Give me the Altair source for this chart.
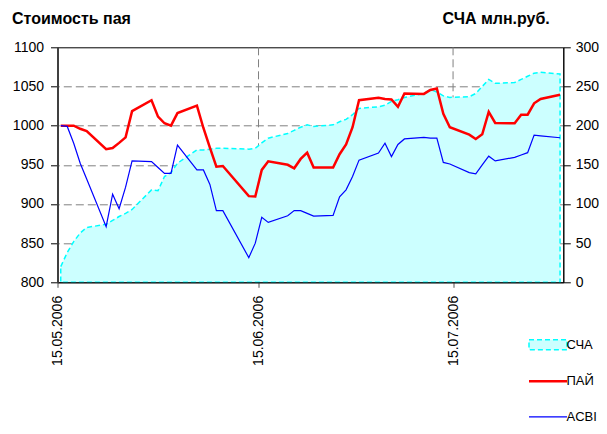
import altair as alt
import pandas as pd

# ---- data ----
dates = ["2006-05-15", "2006-05-16", "2006-05-17", "2006-05-18", "2006-05-19",
         "2006-05-22", "2006-05-23", "2006-05-24", "2006-05-25", "2006-05-26",
         "2006-05-29", "2006-05-30", "2006-05-31", "2006-06-01", "2006-06-02",
         "2006-06-05", "2006-06-06", "2006-06-07", "2006-06-08", "2006-06-09",
         "2006-06-13", "2006-06-14", "2006-06-15", "2006-06-16",
         "2006-06-19", "2006-06-20", "2006-06-21", "2006-06-22", "2006-06-23",
         "2006-06-26", "2006-06-27", "2006-06-28", "2006-06-29", "2006-06-30",
         "2006-07-03", "2006-07-04", "2006-07-05", "2006-07-06", "2006-07-07",
         "2006-07-10", "2006-07-11", "2006-07-12", "2006-07-13", "2006-07-14",
         "2006-07-17", "2006-07-18", "2006-07-19", "2006-07-20", "2006-07-21",
         "2006-07-24", "2006-07-25", "2006-07-26", "2006-07-27", "2006-07-28",
         "2006-07-31"]

pai = [1000, 1000, 1000, 996, 993,
       970, 971.5, 978, 985, 1018.5,
       1032.5, 1011.5, 1003, 1000, 1016,
       1025.5, 997, 972, 947.5, 948.5,
       910, 909.5, 943.5, 954.5,
       950, 945.5, 957.5, 965.5, 946.5,
       946.5, 963.5, 976, 998, 1032.5,
       1035.5, 1034, 1033.5, 1024, 1041,
       1040.5, 1045.5, 1047.5, 1015, 998,
       988.5, 983, 989, 1017.5, 1003.5,
       1003, 1014, 1014, 1028.5, 1034,
       1039.5]

acbi = [1000, 999, 977.5, 952, 932,
        871, 912.5, 894, 921.5, 955,
        954, 946.5, 939, 939, 975,
        943.5, 943.5, 925, 891.5, 891.5,
        831.5, 850, 883, 876.5,
        885, 891.5, 891.5, 888, 884.5,
        885.5, 909, 918, 935, 956,
        965, 977.5, 960.5, 976, 983,
        985, 984, 984, 953, 951,
        940, 938.5, 950, 961, 955,
        959.5, 962.5, 965.5, 988, 987,
        984.5]

scha = [20, 38, 52, 63, 70,
        74, 79, 84, 88, 93,
        118, 117, 135, 140, 152,
        169, 169, 170, 171, 171,
        170, 171, 178, 184,
        190, 194, 198, 201, 199,
        201, 205, 208, 214, 222,
        224, 226, 231, 233, 236,
        241, 246, 243, 238, 236,
        237, 241, 250, 259, 254,
        255, 259, 263, 267, 268,
        266]

series_names = ["СЧА", "ПАЙ", "ACBI"]
series_colors = ["#00FFFF", "#FF0000", "#0000FF"]
x_ticks = ["2006-05-15", "2006-06-15", "2006-07-15"]
x_domain = ["2006-05-15", "2006-08-01"]
left_ticks = [800, 850, 900, 950, 1000, 1050, 1100]
right_ticks = [0, 50, 100, 150, 200, 250, 300]

# ---- tables ----
df = pd.DataFrame({"date": [d + "T12:00:00" for d in dates], "scha": scha})
df_lines = pd.DataFrame({
    "date": [d + "T12:00:00" for d in dates] * 2,
    "value": pai + acbi,
    "series": [series_names[1]] * len(dates) + [series_names[2]] * len(dates),
})
df_vgrid = pd.DataFrame({"date": [d + "T00:00:00" for d in x_ticks[1:]]})


def dt(s):
    y, m, d = s.split("-")
    return alt.DateTime(year=int(y), month=int(m), date=int(d))


FONT = "Liberation Sans"
IS_SCHA = "datum.value === '" + series_names[0] + "'"

x_enc = alt.X(
    "date:T",
    title=None,
    scale=alt.Scale(domain=[dt(x_domain[0]), dt(x_domain[1])], nice=False),
    axis=alt.Axis(
        values=[dt(v) for v in x_ticks], format="%d.%m.%Y", labelAngle=270,
        grid=False, domainColor="#000000", domainWidth=1, tickColor="#555555",
        tickSize=5, labelPadding=8, labelFontSize=14, labelColor="#000000",
        labelFont=FONT, zindex=1,
    ),
)

vgrid = alt.Chart(df_vgrid).mark_rule(
    color="#808080", strokeDash=[8, 4], strokeWidth=1
).encode(x=x_enc)

area = alt.Chart(df).mark_area(
    fill="#CCFFFF", stroke="#00FFFF", strokeDash=[5, 3], strokeWidth=1.5,
    interpolate="linear"
).encode(
    x=x_enc,
    y=alt.Y(
        "scha:Q",
        scale=alt.Scale(domain=[0, 300], nice=False, zero=True),
        axis=alt.Axis(
            orient="right", values=right_ticks, grid=True, gridDash=[8, 4],
            gridColor="#808080", gridWidth=1, format="d",
            gridOpacity={"condition": {"test": "datum.value == 0 || datum.value == 300", "value": 0}, "value": 1},
            domainColor="#000000", tickColor="#000000", tickSize=7,
            labelPadding=5, labelFontSize=14, labelColor="#000000", labelFont=FONT,
            title="СЧА млн.руб.", titleAngle=0, titleAlign="right",
            titleBaseline="alphabetic", titleX=-14, titleY=-24,
            titleFontSize=16, titleFontWeight="bold", titleFont=FONT, titleColor="#000000",
            zindex=0,
        ),
    ),
)

lines = alt.Chart(df_lines).mark_line(interpolate="linear").encode(
    x=x_enc,
    y=alt.Y(
        "value:Q",
        scale=alt.Scale(domain=[800, 1100], nice=False, zero=False),
        axis=alt.Axis(
            orient="left", values=left_ticks, grid=False, format="d",
            domainColor="#404040", domainWidth=2, tickColor="#000000", tickSize=7,
            labelPadding=7, labelFontSize=14, labelColor="#000000", labelFont=FONT,
            title="Стоимость пая", titleAngle=0, titleAlign="left",
            titleBaseline="alphabetic", titleX=-46, titleY=-24,
            titleFontSize=16, titleFontWeight="bold", titleFont=FONT, titleColor="#000000",
            zindex=1,
        ),
    ),
    stroke=alt.Stroke(
        "series:N",
        scale=alt.Scale(domain=series_names, range=series_colors),
        legend=alt.Legend(
            orient="none", legendX=484, legendY=291, title=None, padding=0,
            symbolSize=1444, rowPadding=21.5, labelOffset=12,
            labelFontSize=13, labelFont=FONT, labelColor="#000000",
            symbolType=alt.ExprRef(IS_SCHA + " ? 'M-1,-0.26H1V0.26H-1Z' : 'M-1,0H1'"),
            symbolFillColor=alt.ExprRef(IS_SCHA + " ? '#CCFFFF' : 'transparent'"),
            symbolDash=alt.ExprRef(IS_SCHA + " ? [5, 3] : [1, 0]"),
            symbolStrokeWidth=alt.ExprRef(IS_SCHA + " ? 1.5 : (datum.value === 'ПАЙ' ? 2.5 : 1.2)"),
            symbolOpacity=1,
        ),
    ),
    strokeWidth=alt.condition("datum.series === 'ПАЙ'", alt.value(2.5), alt.value(1.2)),
    detail="series:N",
)

chart = alt.layer(
    alt.layer(vgrid, area),
    lines,
).resolve_scale(y="independent").properties(
    width=505.8,
    height=235,
    autosize=alt.AutoSizeParams(type="none"),
    padding={"left": 49.5, "top": 39.3, "right": 35.7, "bottom": 143.7},
).configure(font=FONT).configure_view(stroke="#000000", strokeWidth=1)

chart.save("out.html", embed_options={"renderer": "svg", "actions": False})
